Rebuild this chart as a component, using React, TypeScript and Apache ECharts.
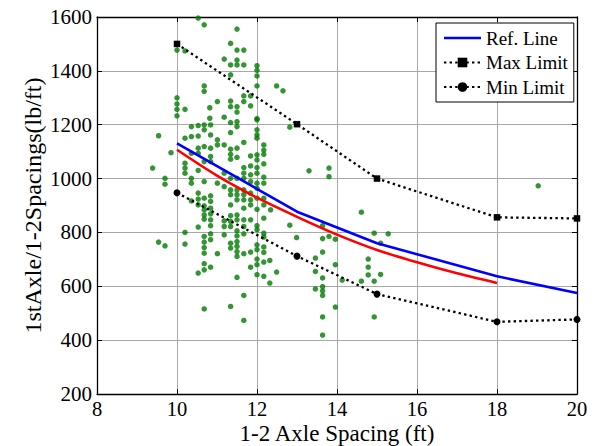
import React, { useEffect, useRef } from "react";
import * as echarts from "echarts";

// Reference / limit curves
const refX = [10, 13, 15, 18, 20];
const refY = [1131, 877, 760, 637, 575];
const redX = [10, 11, 12, 13, 14, 15, 16, 17, 18];
const redY = [1107, 1011, 929, 858, 792, 735, 689, 648, 612];
const maxX = [10, 13, 15, 18, 20];
const maxY = [1500, 1202, 1000, 856, 852];
const minX = [10, 13, 15, 18, 20];
const minY = [947, 712, 571, 468, 477];

// Measured points (1-2 axle spacing, ft ; load per spacing, lb/ft)
const ptsSpacing = [
  10.53, 10.68, 10.0, 10.2, 10.68, 10.68, 10.0, 10.0, 10.0, 10.2, 10.82, 10.0, 10.82,
  11.5, 11.34, 11.5, 11.67, 11.18, 11.5, 11.34, 11.5, 11.67, 12.0, 12.0, 12.0, 11.34, 12.0, 12.49, 12.65,
  11.01, 11.34, 11.67, 11.84, 11.67, 11.34, 11.5, 11.84, 11.5, 11.18, 12.0,
  10.36, 10.53, 10.68, 10.84, 10.68, 10.84, 9.54, 10.2, 10.36, 10.53, 10.68, 10.53, 10.84, 9.85,
  10.36, 10.53, 10.84, 10.68, 10.84, 10.2, 9.39, 10.2, 10.2, 10.53, 9.7, 10.36, 10.68, 9.7, 10.36,
  10.53, 10.84, 10.36, 10.53, 10.68, 10.53, 10.68, 10.84, 10.84, 10.68, 10.84, 10.68, 10.84, 10.68,
  10.84, 10.53,
  11.34, 11.5, 11.5, 12.0, 12.0, 12.0, 12.0, 11.34, 11.01, 11.01, 11.18, 11.67, 12.17, 12.17, 12.17,
  11.34, 11.5, 11.34, 11.34, 11.5, 11.84, 12.0, 12.0, 12.17, 11.84, 11.67, 12.0, 11.18, 11.34, 11.5,
  11.67, 11.67, 11.84, 12.0, 12.17, 12.17, 11.84, 12.0, 12.0, 11.01, 11.18, 11.34, 11.5, 11.34, 11.67,
  11.67, 11.84, 11.5, 11.5, 11.67, 12.17, 12.17, 11.84, 12.0, 11.84, 11.67, 11.34, 12.0, 12.34, 12.17,
  11.34, 11.5, 11.18, 11.34, 11.5, 11.67, 11.84, 12.0, 11.67, 11.18, 11.34,
  10.2, 10.68, 10.84, 10.84, 10.68, 9.54, 9.7, 10.2, 10.68, 10.68, 10.68, 10.84, 10.68, 10.53, 10.68,
  11.18, 11.5, 11.5, 11.67, 12.17, 12.17, 12.0, 11.34, 11.5, 11.34, 11.5, 11.5, 12.0, 12.0, 12.17,
  12.17, 11.01, 11.5, 11.67, 11.84, 12.0, 12.0, 12.17, 12.32, 11.84, 12.49, 12.0, 12.17, 11.5, 12.32,
  11.67, 11.34, 11.67,
  12.82, 13.3, 13.8, 13.8, 14.61, 12.82, 13.64, 12.99, 13.64, 13.8, 13.96, 14.93, 15.28, 15.09, 13.64,
  13.46, 14.78, 13.96, 14.78, 13.46, 14.78, 15.09, 13.64, 14.13, 14.61, 14.93, 13.64, 13.46, 13.64,
  13.64, 13.96, 13.64, 14.93, 13.64, 19.03,
];
const ptsLoad = [
  1596, 1571, 1477, 1474, 1344, 1324, 1300, 1277, 1257, 1257, 1263, 1233, 1224,
  1555, 1502, 1477, 1477, 1444, 1440, 1422, 1422, 1422, 1419, 1402, 1381, 1385, 1344, 1344, 1326,
  1286, 1288, 1307, 1307, 1286, 1267, 1267, 1270, 1247, 1228, 1223,
  1193, 1197, 1199, 1199, 1181, 1162, 1159, 1150, 1156, 1158, 1119, 1113, 1113, 1096,
  1094, 1094, 1082, 1063, 1063, 1057, 1039, 1039, 1020, 1030, 1001, 1001, 989, 979, 983,
  946, 936, 917, 924, 927, 902, 899, 915, 890, 884, 869, 865, 847, 849,
  825, 820,
  1208, 1211, 1193, 1218, 1181, 1162, 1150, 1171, 1144, 1125, 1125, 1134, 1125, 1106, 1090,
  1109, 1113, 1090, 1072, 1079, 1084, 1088, 1069, 1055, 1047, 1041, 1041, 1020, 1001, 1001,
  1020, 1001, 1014, 1020, 1005, 983, 989, 983, 964, 983, 970, 958, 958, 940, 958,
  940, 946, 940, 921, 921, 927, 902, 921, 927, 902, 890, 902, 886, 884, 853,
  862, 865, 843, 841, 847, 847, 847, 825, 822, 822, 822,
  800, 785, 795, 773, 764, 764, 750, 757, 744, 723, 684, 671, 661, 649, 516,
  791, 806, 787, 795, 797, 783, 810, 760, 766, 742, 748, 729, 754, 736, 746,
  726, 721, 711, 721, 727, 701, 680, 690, 696, 671, 653, 643, 637, 633, 612,
  566, 525, 473,
  1191, 1029, 1039, 1007, 875, 827, 825, 781, 777, 785, 775, 797, 795, 760, 727,
  705, 701, 680, 671, 655, 642, 644, 631, 623, 619, 619, 599, 590, 583,
  566, 523, 486, 486, 419, 973,
];

const legendNames = ["Ref. Line", "Max Limit", "Min Limit"];
const xTitle = "1-2 Axle Spacing (ft)";
const yTitle = "1stAxle/1-2Spacings(lb/ft)";

const FONT = "Liberation Serif";

const zip = (xs: number[], ys: number[]) => xs.map((x, i) => [x, ys[i]]);

// plain horizontal bar icon (tiny corner specks fix the bounding box so it is not stretched)
const LINE_ICON =
  "path://M0 0L0.01 0L0 0.01Z M37 12L36.99 12L37 11.99Z M0 4.7L37 4.7L37 7.3L0 7.3Z";

export default function App() {
  const ref = useRef<HTMLDivElement>(null);
  useEffect(() => {
    if (!ref.current) return;
    const chart = echarts.init(ref.current, undefined, { renderer: "svg" });
    const gridLine = { show: true, lineStyle: { color: "#a8a8a8", width: 1, type: "solid" as const } };
    const axisLine = { show: true, onZero: false, lineStyle: { color: "#000", width: 1.3 } };
    const tick = { show: true, inside: true, length: 5, lineStyle: { color: "#000", width: 1 } };
    chart.setOption({
      animation: false,
      backgroundColor: "#fff",
      textStyle: { fontFamily: FONT, color: "#000" },
      grid: { left: 97, right: 16, top: 17, bottom: 52, containLabel: false, outerBoundsMode: "none" },
      legend: {
        data: [
          { name: legendNames[0], icon: LINE_ICON },
          { name: legendNames[1] },
          { name: legendNames[2] },
        ],
        orient: "vertical",
        left: 436,
        top: 23,
        backgroundColor: "#fff",
        borderColor: "#000",
        borderWidth: 1,
        borderRadius: 0,
        padding: [5, 6, 5, 7],
        itemWidth: 37,
        itemHeight: 12,
        itemGap: 4.5,
        textStyle: { fontFamily: FONT, fontSize: 19, color: "#000", lineHeight: 20 },
      },
      xAxis: [
        {
          type: "value",
          min: 8,
          max: 20,
          interval: 2,
          position: "bottom",
          axisLine,
          axisTick: tick,
          axisLabel: {
            fontFamily: FONT,
            fontSize: 20.5,
            color: "#000",
            lineHeight: 19,
            margin: 5.5,
            formatter: (v: number) => String(v),
          },
          splitLine: gridLine,
          name: xTitle,
          nameLocation: "middle",
          nameGap: 28.2,
          nameMoveOverlap: false,
          nameTextStyle: { fontFamily: FONT, fontSize: 23, lineHeight: 22, color: "#000" },
        },
        {
          type: "value",
          min: 8,
          max: 20,
          interval: 2,
          position: "top",
          axisLine,
          axisTick: tick,
          axisLabel: { show: false },
          splitLine: { show: false },
        },
      ],
      yAxis: [
        {
          type: "value",
          min: 200,
          max: 1600,
          interval: 200,
          position: "left",
          axisLine,
          axisTick: tick,
          axisLabel: {
            fontFamily: FONT,
            fontSize: 21,
            color: "#000",
            margin: 5,
            formatter: (v: number) => String(v),
          },
          splitLine: gridLine,
          name: yTitle,
          nameLocation: "middle",
          nameGap: 52,
          nameMoveOverlap: false,
          nameTextStyle: { fontFamily: FONT, fontSize: 24, color: "#000" },
        },
        {
          type: "value",
          min: 200,
          max: 1600,
          interval: 200,
          position: "right",
          axisLine,
          axisTick: tick,
          axisLabel: { show: false },
          splitLine: { show: false },
        },
      ],
      series: [
        {
          type: "scatter",
          name: "Data",
          data: zip(ptsSpacing, ptsLoad),
          symbol: "circle",
          symbolSize: 5.5,
          itemStyle: { color: "#007a00" },
          z: 1,
        },
        {
          type: "line",
          name: "Fit",
          data: zip(redX, redY),
          smooth: 0.3,
          showSymbol: false,
          lineStyle: { color: "#ff0000", width: 2.6 },
          itemStyle: { color: "#ff0000" },
          z: 2,
        },
        {
          type: "line",
          name: "Ref. Line",
          data: zip(refX, refY),
          showSymbol: false,
          symbol: "none",
          lineStyle: { color: "#0000ff", width: 2.6 },
          itemStyle: { color: "#0000ff" },
          z: 3,
        },
        {
          type: "line",
          name: "Max Limit",
          data: zip(maxX, maxY),
          symbol: "rect",
          symbolSize: 6.5,
          lineStyle: { color: "#000", width: 2.3, type: [2.4, 3.2] },
          itemStyle: { color: "#000" },
          z: 4,
        },
        {
          type: "line",
          name: "Min Limit",
          data: zip(minX, minY),
          symbol: "circle",
          symbolSize: 7,
          lineStyle: { color: "#000", width: 2.3, type: [2.4, 3.2] },
          itemStyle: { color: "#000" },
          z: 4,
        },
      ],
    });
    return () => chart.dispose();
  }, []);
  return (
    <div
      ref={ref}
      style={{ position: "fixed", left: 0, top: 0, width: 593, height: 446, background: "#fff" }}
    />
  );
}
